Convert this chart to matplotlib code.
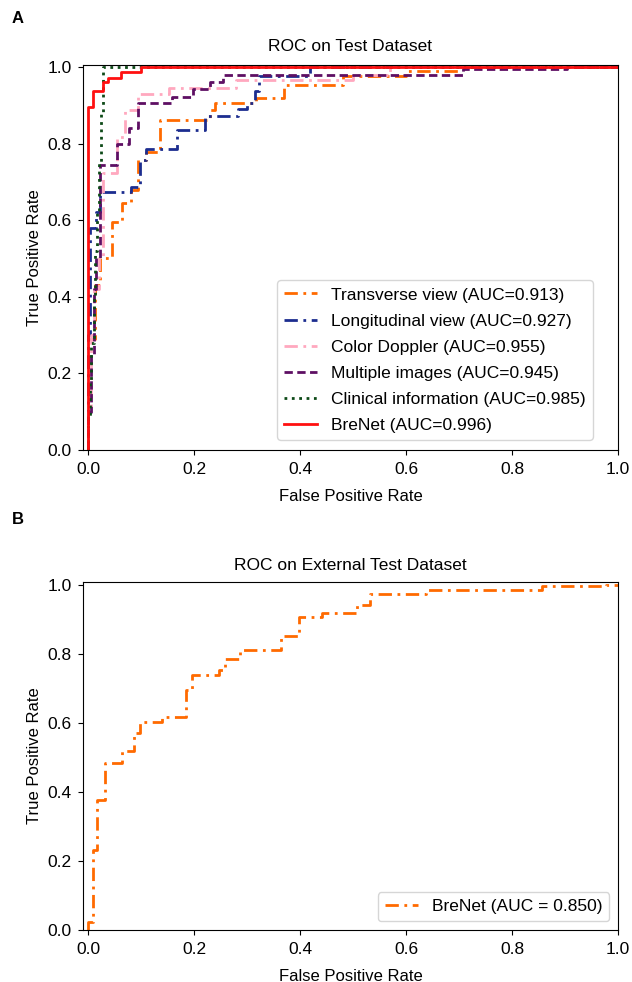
import matplotlib
matplotlib.use("Agg")
import matplotlib.pyplot as plt

plt.rcParams["font.family"] = ["Liberation Sans", "DejaVu Sans"]
plt.rcParams["font.size"] = 12.5
plt.rcParams["xtick.major.pad"] = 5.5
plt.rcParams["ytick.major.pad"] = 4.5

# ROC curves on the internal test set (fpr, tpr)
transverse_fpr = [0, 0, 0.013, 0.013, 0.022, 0.022, 0.045, 0.045, 0.063, 0.063, 0.08, 0.08,
                  0.093, 0.093, 0.109, 0.109, 0.135, 0.135, 0.229, 0.229, 0.24, 0.24,
                  0.316, 0.316, 0.369, 0.369, 0.481, 0.481, 0.6, 0.6, 0.7, 0.7, 1.0]
transverse_tpr = [0, 0.289, 0.289, 0.43, 0.43, 0.5, 0.5, 0.596, 0.596, 0.644, 0.644, 0.679,
                  0.679, 0.757, 0.757, 0.779, 0.779, 0.862, 0.862, 0.888, 0.888, 0.905,
                  0.905, 0.918, 0.918, 0.953, 0.953, 0.975, 0.975, 0.99, 0.99, 1.0, 1.0]

longitudinal_fpr = [0, 0, 0.004, 0.004, 0.014, 0.014, 0.023, 0.023, 0.08, 0.08, 0.098, 0.098,
                    0.109, 0.109, 0.167, 0.167, 0.221, 0.221, 0.283, 0.283, 0.3, 0.3,
                    0.314, 0.314, 0.323, 0.323, 0.418, 0.418, 1.0]
longitudinal_tpr = [0, 0.3, 0.3, 0.58, 0.58, 0.62, 0.62, 0.674, 0.674, 0.687, 0.687, 0.757,
                    0.757, 0.786, 0.786, 0.836, 0.836, 0.872, 0.872, 0.89, 0.89, 0.905,
                    0.905, 0.936, 0.936, 0.975, 0.975, 1.0, 1.0]

doppler_fpr = [0, 0, 0.005, 0.005, 0.01, 0.01, 0.02, 0.02, 0.028, 0.028, 0.055, 0.055,
               0.07, 0.07, 0.094, 0.094, 0.153, 0.153, 0.278, 0.278, 0.5, 0.5, 0.57, 0.57, 1.0]
doppler_tpr = [0, 0.1, 0.1, 0.3, 0.3, 0.42, 0.42, 0.5, 0.5, 0.724, 0.724, 0.817,
               0.817, 0.888, 0.888, 0.929, 0.929, 0.944, 0.944, 0.966, 0.966, 0.98, 0.98, 1.0, 1.0]

multiple_fpr = [0, 0, 0.005, 0.005, 0.01, 0.01, 0.015, 0.015, 0.023, 0.023, 0.054, 0.054,
                0.077, 0.077, 0.094, 0.094, 0.159, 0.159, 0.197, 0.197, 0.229, 0.229,
                0.254, 0.254, 0.708, 0.708, 0.903, 0.903, 1.0]
multiple_tpr = [0, 0.1, 0.1, 0.25, 0.25, 0.42, 0.42, 0.5, 0.5, 0.744, 0.744, 0.8,
                0.8, 0.84, 0.84, 0.905, 0.905, 0.922, 0.922, 0.942, 0.942, 0.96,
                0.96, 0.979, 0.979, 0.994, 0.994, 1.0, 1.0]

clinical_fpr = [0, 0, 0.003, 0.003, 0.006, 0.006, 0.01, 0.01, 0.013, 0.013, 0.017, 0.017,
                0.02, 0.02, 0.024, 0.024, 0.028, 0.028, 1.0]
clinical_tpr = [0, 0.08, 0.08, 0.18, 0.18, 0.28, 0.28, 0.4, 0.4, 0.52, 0.52, 0.62,
                0.62, 0.75, 0.75, 0.88, 0.88, 1.0, 1.0]

brenet_fpr = [0, 0, 0.009, 0.009, 0.028, 0.028, 0.038, 0.038, 0.061, 0.061, 0.1, 0.1, 1.0]
brenet_tpr = [0, 0.896, 0.896, 0.938, 0.938, 0.96, 0.96, 0.97, 0.97, 0.986, 0.986, 1.0, 1.0]

# ROC curve on the external test set
ext_fpr = [0, 0, 0.008, 0.008, 0.016, 0.016, 0.031, 0.031, 0.063, 0.063, 0.087, 0.087,
           0.098, 0.098, 0.139, 0.139, 0.185, 0.185, 0.196, 0.196, 0.246, 0.246,
           0.258, 0.258, 0.287, 0.287, 0.363, 0.363, 0.398, 0.398, 0.442, 0.442,
           0.508, 0.508, 0.531, 0.531, 0.638, 0.638, 0.856, 0.856, 0.978, 0.978, 1.0]
ext_tpr = [0, 0.024, 0.024, 0.232, 0.232, 0.377, 0.377, 0.483, 0.483, 0.519, 0.519, 0.57,
           0.57, 0.604, 0.604, 0.618, 0.618, 0.696, 0.696, 0.739, 0.739, 0.754,
           0.754, 0.787, 0.787, 0.812, 0.812, 0.853, 0.853, 0.908, 0.908, 0.92,
           0.92, 0.942, 0.942, 0.974, 0.974, 0.986, 0.986, 0.996, 0.996, 1.0, 1.0]

ticks = [0.0, 0.2, 0.4, 0.6, 0.8, 1.0]
dashdot = (0, (4.8, 2.0, 1.0, 2.0))

fig = plt.figure(figsize=(6.32, 9.82), dpi=100)
ax1 = fig.add_axes([0.1313, 0.5418, 0.8465, 0.392])
ax2 = fig.add_axes([0.1313, 0.0530, 0.8465, 0.3544])

ax1.plot(transverse_fpr, transverse_tpr, color="#ff6a00", lw=2, linestyle=dashdot,
         label="Transverse view (AUC=0.913)")
ax1.plot(longitudinal_fpr, longitudinal_tpr, color="#1c2d8f", lw=2, linestyle=dashdot,
         label="Longitudinal view (AUC=0.927)")
ax1.plot(doppler_fpr, doppler_tpr, color="#ffa8bf", lw=2, linestyle=dashdot,
         label="Color Doppler (AUC=0.955)")
ax1.plot(multiple_fpr, multiple_tpr, color="#5e0f63", lw=2, linestyle=(0, (3.0, 1.6)),
         label="Multiple images (AUC=0.945)")
ax1.plot(clinical_fpr, clinical_tpr, color="#0d4a17", lw=2, linestyle=":",
         label="Clinical information (AUC=0.985)")
ax1.plot(brenet_fpr, brenet_tpr, color="#ff1010", lw=2,
         label="BreNet (AUC=0.996)")
ax1.set_title("ROC on Test Dataset", fontsize=12.5, pad=10)
ax1.legend(loc="lower left", bbox_to_anchor=(0.363, 0.026), borderaxespad=0,
           labelspacing=0.63, handlelength=1.9)

ax2.plot(ext_fpr, ext_tpr, color="#ff6a00", lw=2, linestyle=dashdot,
         label="BreNet (AUC = 0.850)")
ax2.set_title("ROC on External Test Dataset", fontsize=12.5, pad=8.5)
ax2.legend(loc="lower right", handlelength=1.9)

for ax, top in ((ax1, 1.005), (ax2, 1.009)):
    ax.set_xlim(-0.01, 1.0)
    ax.set_ylim(0, top)
    ax.set_xticks(ticks)
    ax.set_yticks(ticks)
    ax.set_xlabel("False Positive Rate", fontsize=12, labelpad=8)
    ax.set_ylabel("True Positive Rate", fontsize=12)

fig.text(0.018, 0.981, "A", fontweight="bold", fontsize=12, va="center")
fig.text(0.018, 0.471, "B", fontweight="bold", fontsize=12, va="center")

fig.savefig("out.png", dpi=100)
